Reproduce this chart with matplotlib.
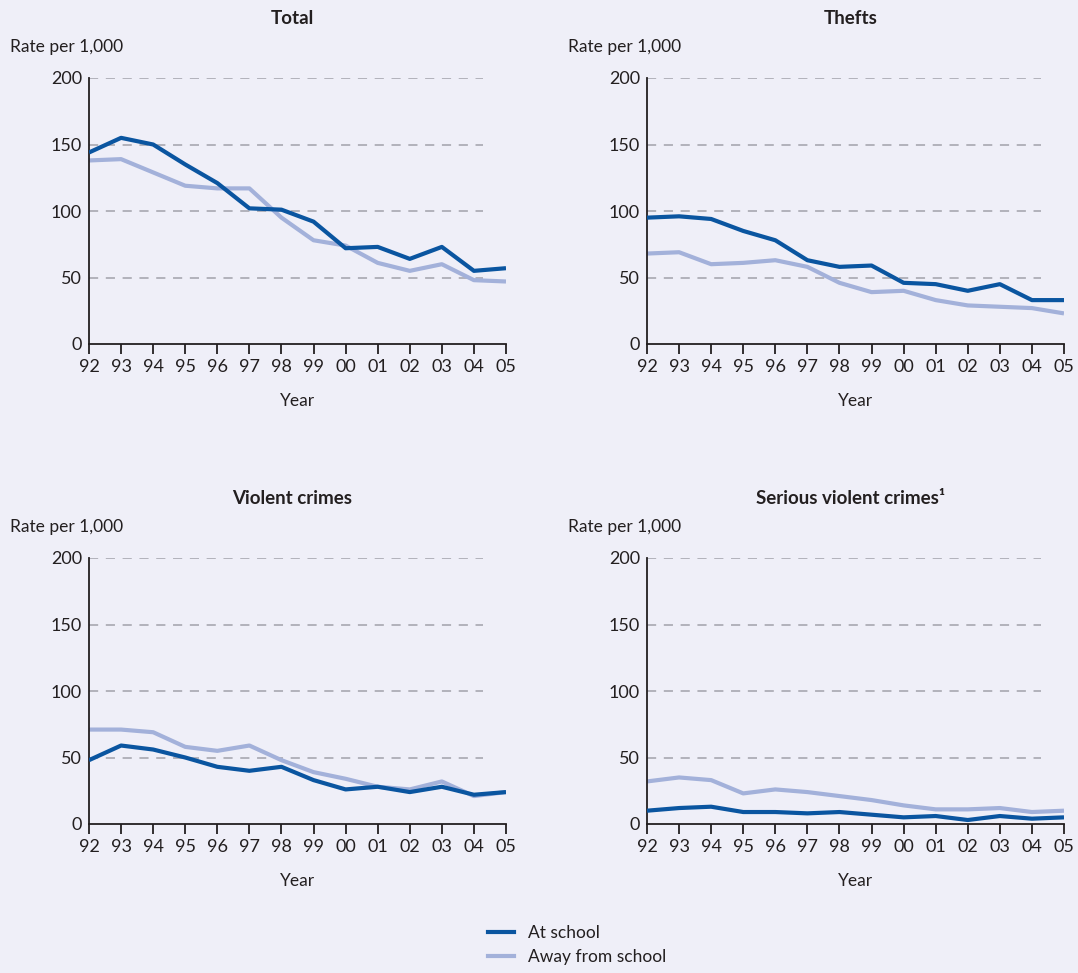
import numpy as np
import matplotlib.pyplot as plt
from matplotlib.lines import Line2D

plt.rcParams['font.family'] = ['Lato', 'DejaVu Sans']

years = ['92', '93', '94', '95', '96', '97', '98', '99', '00', '01', '02', '03', '04', '05']
titles = ['Total', 'Thefts', 'Violent crimes', 'Serious violent crimes\u00b9']

total_school = [144, 155, 150, 135, 121, 102, 101, 92, 72, 73, 64, 73, 55, 57]
total_away = [138, 139, 129, 119, 117, 117, 95, 78, 74, 61, 55, 60, 48, 47]
thefts_school = [95, 96, 94, 85, 78, 63, 58, 59, 46, 45, 40, 45, 33, 33]
thefts_away = [68, 69, 60, 61, 63, 58, 46, 39, 40, 33, 29, 28, 27, 23]
violent_school = [48, 59, 56, 50, 43, 40, 43, 33, 26, 28, 24, 28, 22, 24]
violent_away = [71, 71, 69, 58, 55, 59, 48, 39, 34, 28, 26, 32, 21, 24]
serious_school = [10, 12, 13, 9, 9, 8, 9, 7, 5, 6, 3, 6, 4, 5]
serious_away = [32, 35, 33, 23, 26, 24, 21, 18, 14, 11, 11, 12, 9, 10]

school = [total_school, thefts_school, violent_school, serious_school]
away = [total_away, thefts_away, violent_away, serious_away]

bg = '#efeff8'
dark = '#0a55a0'
light = '#a3b1da'
txt = '#231f20'

W, H = 1078, 973
fig = plt.figure(figsize=(W / 100, H / 100), dpi=100, facecolor=bg)

# panel boxes in pixels: left, right, top, bottom
boxes = [(89, 506, 78, 344), (647, 1064, 78, 344),
         (89, 506, 558, 824), (647, 1064, 558, 824)]

x = np.arange(len(years))
for i, (l, r, t, b) in enumerate(boxes):
    ax = fig.add_axes([l / W, 1 - b / H, (r - l) / W, (b - t) / H])
    ax.set_facecolor(bg)
    for yv in [50, 100, 150, 200]:
        ax.axhline(yv, xmin=0, xmax=0.945, color='#a2a2aa', lw=1.1,
                   dashes=(6, 5), zorder=1)
    ax.plot(x, away[i], color=light, lw=3, solid_capstyle='butt', zorder=2)
    ax.plot(x, school[i], color=dark, lw=3, solid_capstyle='butt', zorder=3)
    ax.set_xlim(0, len(years) - 1)
    ax.set_ylim(0, 200)
    ax.set_xticks(x)
    ax.set_xticklabels(years)
    ax.set_yticks([0, 50, 100, 150, 200])
    for s in ['top', 'right']:
        ax.spines[s].set_visible(False)
    for s in ['left', 'bottom']:
        ax.spines[s].set_color(txt)
        ax.spines[s].set_linewidth(1.3)
    ax.tick_params(axis='x', length=7, width=1.3, color=txt, pad=4,
                   labelsize=13, labelcolor=txt)
    ax.tick_params(axis='y', length=0, pad=5, labelsize=13, labelcolor=txt)
    ax.set_xlabel('Year', fontsize=12.5, color=txt, labelpad=13)
    fig.text((l - 10 + (r - l) / 2 + 5) / W, 1 - (t - 60) / H, titles[i],
             ha='center', va='center', fontsize=13.5, fontweight='bold', color=txt)
    fig.text((l - 79) / W, 1 - (t - 31) / H, 'Rate per 1,000',
             ha='left', va='center', fontsize=12.5, color=txt)

handles = [Line2D([], [], color=dark, lw=3), Line2D([], [], color=light, lw=3)]
fig.legend(handles, ['At school', 'Away from school'], loc='center',
           bbox_to_anchor=(0.535, 1 - 945 / H), frameon=False, fontsize=12.5,
           handlelength=1.5, labelspacing=0.45, handletextpad=0.8,
           labelcolor=txt)

fig.savefig('out.png', dpi=100, facecolor=bg)
